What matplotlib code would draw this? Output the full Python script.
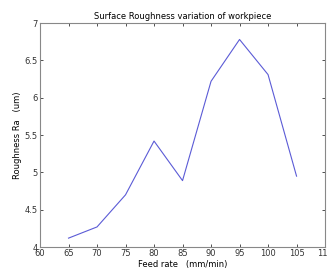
import matplotlib
matplotlib.use('Agg')
import matplotlib.pyplot as plt

feed_rate = [65, 70, 75, 80, 85, 90, 95, 100, 105]
roughness = [4.12, 4.27, 4.70, 5.42, 4.89, 6.22, 6.78, 6.31, 4.95]
x_ticks = [60, 65, 70, 75, 80, 85, 90, 95, 100, 105, 110]
y_ticks = [4, 4.5, 5, 5.5, 6, 6.5, 7]

fig = plt.figure(figsize=(3.28, 2.68), dpi=100)
ax = fig.add_axes([0.122, 0.078, 0.869, 0.836])
ax.plot(feed_rate, roughness, color='#5b5bd6', linewidth=0.8)
ax.set_xlim(60, 110)
ax.set_ylim(4, 7)
ax.set_xticks(x_ticks)
ax.set_yticks(y_ticks)
ax.set_yticklabels(['4', '4.5', '5', '5.5', '6', '6.5', '7'])
ax.tick_params(direction='in', top=True, right=True, labelsize=6, length=2.5,
               width=0.6, pad=1.5, colors='#333333')
for s in ax.spines.values():
    s.set_color('#888888')
    s.set_linewidth(0.8)
ax.set_title('Surface Roughness variation of workpiece', fontsize=6, pad=3)
ax.set_xlabel('Feed rate   (mm/min)', fontsize=6, labelpad=1)
ax.set_ylabel('Roughness Ra   (um)', fontsize=6, labelpad=2)
fig.savefig('out.png', dpi=100)
